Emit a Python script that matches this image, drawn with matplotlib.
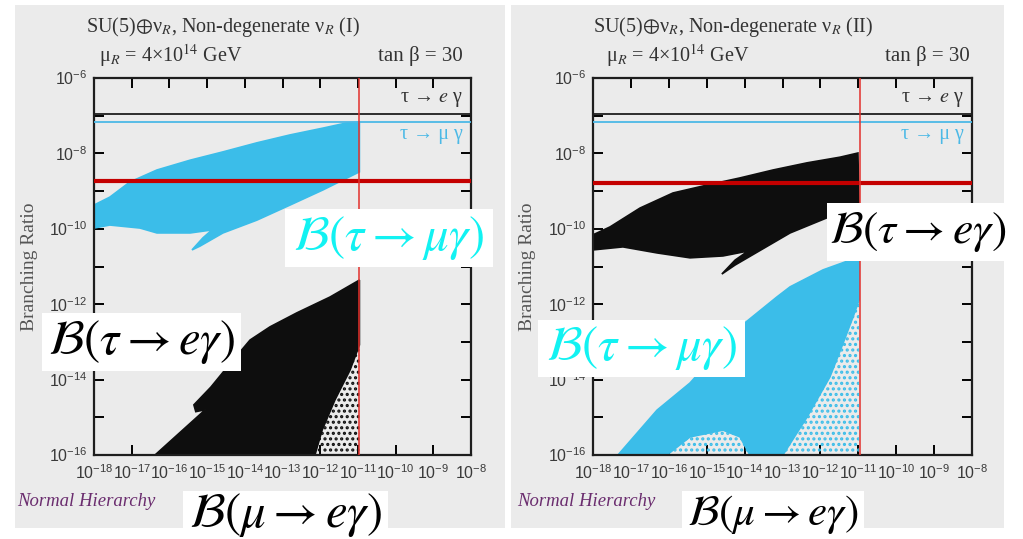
import numpy as np
import matplotlib.pyplot as plt
from matplotlib.patches import Rectangle
from matplotlib.ticker import FixedLocator, FixedFormatter, NullLocator

W, H, DPI = 1023, 539, 100

plt.rcParams['font.family'] = ['Liberation Serif', 'DejaVu Serif']
plt.rcParams['mathtext.fontset'] = 'custom'
plt.rcParams['mathtext.rm'] = 'Liberation Sans'
plt.rcParams['mathtext.it'] = 'Liberation Sans:italic'
plt.rcParams['mathtext.bf'] = 'Liberation Sans:bold'
plt.rcParams['hatch.linewidth'] = 1.5

BG = '#ebebeb'
CLOUD_CYAN = '#3bbde9'
CLOUD_BLACK = '#0e0e0e'
LABEL_CYAN = '#12f2f2'
MEG_RED = '#e3302c'
SUPERB_RED = '#c40000'

# ---- axis ticks (decade exponents) ----
X_DECADES = list(range(-18, -7))
Y_DECADES = list(range(-16, -5))
X_TICK_LABELS = [r'$10^{%d}$' % d for d in X_DECADES]
Y_TICK_LABELS = [r'$10^{%d}$' % d if d % 2 == 0 else '' for d in Y_DECADES]

# ---- experimental bounds ----
MEG_BOUND = 1.1e-11        # B(mu -> e gamma), vertical line
TAU_EG_BOUND = 1.1e-7      # B(tau -> e gamma)
TAU_MG_BOUND = 6.8e-8      # B(tau -> mu gamma)
FUTURE_BOUND_I = 1.85e-9
FUTURE_BOUND_II = 1.6e-9

# ---- scan regions, log10 of (B(mu->e gamma), B(tau->l gamma)) ----
# case (I): tau -> mu gamma
I_MUG_X = [-18.00, -17.58, -17.05, -16.33, -15.45, -14.58, -13.68, -12.80, -11.93, -11.29,
           -10.96, -10.96, -11.93, -12.80, -13.68, -14.58, -15.19, -15.40, -15.11, -14.87,
           -15.45, -16.33, -16.78, -17.58, -18.00]
I_MUG_Y = [-9.37, -9.16, -8.76, -8.44, -8.18, -7.96, -7.72, -7.51, -7.33, -7.19,
           -7.17, -8.49, -8.97, -9.37, -9.77, -10.11, -10.46, -10.56, -10.24, -10.03,
           -10.11, -10.11, -9.98, -9.90, -9.98]
# case (I): tau -> e gamma
I_EG_X = [-10.96, -11.74, -12.62, -13.33, -13.86, -14.45, -14.90, -15.35, -15.30, -15.05,
          -16.38, -12.14, -11.95, -11.61, -11.21, -10.96]
I_EG_Y = [-11.36, -11.81, -12.23, -12.60, -12.95, -13.65, -14.20, -14.67, -14.85, -14.80,
          -16.00, -16.00, -15.34, -14.54, -13.75, -13.08]
I_EG_SPARSE_X = [-10.96, -11.21, -11.61, -11.95, -12.14, -10.96]
I_EG_SPARSE_Y = [-13.08, -13.75, -14.54, -15.34, -16.00, -16.00]

# case (II): tau -> e gamma
II_EG_X = [-18.00, -17.55, -16.76, -15.89, -14.99, -14.12, -13.25, -12.35, -11.48, -11.01,
           -10.98, -11.83, -12.80, -13.67, -14.25, -14.60, -14.25, -13.91, -14.57, -15.44,
           -16.31, -17.21, -18.00]
II_EG_Y = [-10.16, -9.95, -9.45, -9.05, -8.84, -8.65, -8.44, -8.25, -8.10, -7.99,
           -9.50, -9.71, -10.11, -10.62, -10.96, -11.20, -10.83, -10.59, -10.72, -10.77,
           -10.64, -10.48, -10.56]
# case (II): tau -> mu gamma
II_MUG_X = [-10.98, -10.98, -11.14, -11.40, -11.75, -12.35, -12.99, -13.86, -14.12, -14.57,
            -15.44, -16.05, -17.34, -16.31, -15.44, -14.12, -13.15, -12.80, -11.93, -11.35]
II_MUG_Y = [-10.77, -11.89, -12.34, -13.03, -13.93, -14.99, -16.00, -16.00, -15.52, -15.34,
            -15.52, -16.00, -16.00, -14.81, -14.09, -12.60, -11.81, -11.54, -11.09, -10.88]
II_MUG_SPARSE_X = [-10.98, -10.98, -12.99, -12.35, -11.75, -11.40, -11.14]
II_MUG_SPARSE_Y = [-11.89, -16.00, -16.00, -14.99, -13.93, -13.03, -12.34]
II_MUG_GAP_X = [-16.05, -15.44, -14.57, -14.12, -13.86]
II_MUG_GAP_Y = [-16.00, -15.52, -15.34, -15.52, -16.00]


def fx(px):
    return px / W


def fy(py):
    return 1 - py / H


def region(ax, xs, ys, color, sparse=False):
    x = 10.0 ** np.asarray(xs)
    y = 10.0 ** np.asarray(ys)
    if sparse:
        ax.fill(x, y, facecolor='none', edgecolor=color, hatch='...', linewidth=0, zorder=2)
    else:
        ax.fill(x, y, facecolor=color, edgecolor=color, linewidth=1.2, zorder=2)


def style_axes(ax):
    ax.set_xscale('log')
    ax.set_yscale('log')
    ax.set_xlim(1e-18, 1e-8)
    ax.set_ylim(1e-16, 1e-6)
    ax.set_facecolor(BG)
    ax.xaxis.set_major_locator(FixedLocator([10.0 ** d for d in X_DECADES]))
    ax.xaxis.set_major_formatter(FixedFormatter(X_TICK_LABELS))
    ax.yaxis.set_major_locator(FixedLocator([10.0 ** d for d in Y_DECADES]))
    ax.yaxis.set_major_formatter(FixedFormatter(Y_TICK_LABELS))
    ax.xaxis.set_minor_locator(NullLocator())
    ax.yaxis.set_minor_locator(NullLocator())
    ax.tick_params(which='major', direction='in', length=7, width=1.4,
                   top=True, right=True, labelsize=11.5, labelcolor='#3a3a3a')
    ax.tick_params(axis='x', pad=7)
    ax.tick_params(axis='y', pad=5)
    for s in ax.spines.values():
        s.set_linewidth(1.6)
        s.set_color('#1e1e1e')


def bounds(ax, future):
    ax.axhline(TAU_EG_BOUND, color='#1e1e1e', lw=1.3, zorder=3)
    ax.axhline(TAU_MG_BOUND, color='#4cb9e6', lw=1.3, zorder=3)
    ax.axhline(future, xmin=0.006, xmax=1.0, color=SUPERB_RED, lw=3.0, zorder=4)
    ax.axvline(MEG_BOUND, color=MEG_RED, lw=1.1, zorder=4)
    ax.text(0.978, 0.942, r'τ → $e$ γ', transform=ax.transAxes, ha='right', va='center',
            fontsize=14.5, color='#333333', math_fontfamily='stix')
    ax.text(0.978, 0.849, 'τ → μ γ', transform=ax.transAxes, ha='right', va='center',
            fontsize=14.5, color='#4cb9e6')


def boxed_label(fig, x0, x1, y0, y1, text, color, size, dx=0):
    fig.add_artist(Rectangle((fx(x0), fy(y1)), fx(x1) - fx(x0), fy(y0) - fy(y1),
                             transform=fig.transFigure, facecolor='white',
                             edgecolor='none', zorder=5))
    fig.text(fx((x0 + x1) / 2 + dx), fy((y0 + y1) / 2), text, ha='center', va='center',
             fontsize=size, color=color, math_fontfamily='stix', zorder=6)


fig = plt.figure(figsize=(W / DPI, H / DPI), dpi=DPI)

# grey panel backgrounds
for x0, x1 in [(15, 505), (511, 1004)]:
    fig.add_artist(Rectangle((fx(x0), fy(528)), fx(x1) - fx(x0), fy(5) - fy(528),
                             transform=fig.transFigure, facecolor=BG,
                             edgecolor='none', zorder=-1))

ax1 = fig.add_axes([fx(94), fy(455), fx(471) - fx(94), fy(78) - fy(455)])
ax2 = fig.add_axes([fx(593), fy(455), fx(972) - fx(593), fy(78) - fy(455)])

for ax in (ax1, ax2):
    style_axes(ax)

region(ax1, I_MUG_X, I_MUG_Y, CLOUD_CYAN)
region(ax1, I_EG_X, I_EG_Y, CLOUD_BLACK)
region(ax1, I_EG_SPARSE_X, I_EG_SPARSE_Y, CLOUD_BLACK, sparse=True)
bounds(ax1, FUTURE_BOUND_I)

region(ax2, II_EG_X, II_EG_Y, CLOUD_BLACK)
region(ax2, II_MUG_X, II_MUG_Y, CLOUD_CYAN)
region(ax2, II_MUG_SPARSE_X, II_MUG_SPARSE_Y, CLOUD_CYAN, sparse=True)
region(ax2, II_MUG_GAP_X, II_MUG_GAP_Y, CLOUD_CYAN, sparse=True)
bounds(ax2, FUTURE_BOUND_II)

# panel headers
for left, right, tag in [(86, 463, 'I'), (593, 970, 'II')]:
    fig.text(fx(left), fy(27), r'SU(5)$\oplus$ν$_R$, Non-degenerate ν$_R$ (%s)' % tag,
             ha='left', va='center', fontsize=14.5, color='#333333', math_fontfamily='stix')
    fig.text(fx(left + 13), fy(56), r'μ$_R$ = 4×10$^{14}$ GeV', ha='left', va='center',
             fontsize=14.5, color='#333333', math_fontfamily='stix')
    fig.text(fx(right), fy(56), 'tan β = 30', ha='right', va='center',
             fontsize=15, color='#333333')

for x in (29, 527):
    fig.text(fx(x), fy(267), 'Branching Ratio', rotation=90, ha='center', va='center',
             fontsize=14, color='#555555')
for x in (17, 517):
    fig.text(fx(x), fy(502), 'Normal Hierarchy', ha='left', va='center',
             fontsize=13.5, style='italic', color='#6b2d6f')

boxed_label(fig, 285, 493, 209, 267, r'$\mathcal{B}(\tau\rightarrow\mu\gamma)$', LABEL_CYAN, 35)
boxed_label(fig, 42, 241, 313, 371, r'$\mathcal{B}(\tau\rightarrow e\gamma)$', 'black', 35)
boxed_label(fig, 183, 388, 491, 539, r'$\mathcal{B}(\mu\rightarrow e\gamma)$', 'black', 35)
boxed_label(fig, 827, 1004, 203, 261, r'$\mathcal{B}(\tau\rightarrow e\gamma)$', 'black', 33, dx=2)
boxed_label(fig, 538, 745, 320, 377, r'$\mathcal{B}(\tau\rightarrow\mu\gamma)$', LABEL_CYAN, 35)
boxed_label(fig, 682, 864, 491, 539, r'$\mathcal{B}(\mu\rightarrow e\gamma)$', 'black', 31)

fig.savefig('out.png', dpi=DPI)
